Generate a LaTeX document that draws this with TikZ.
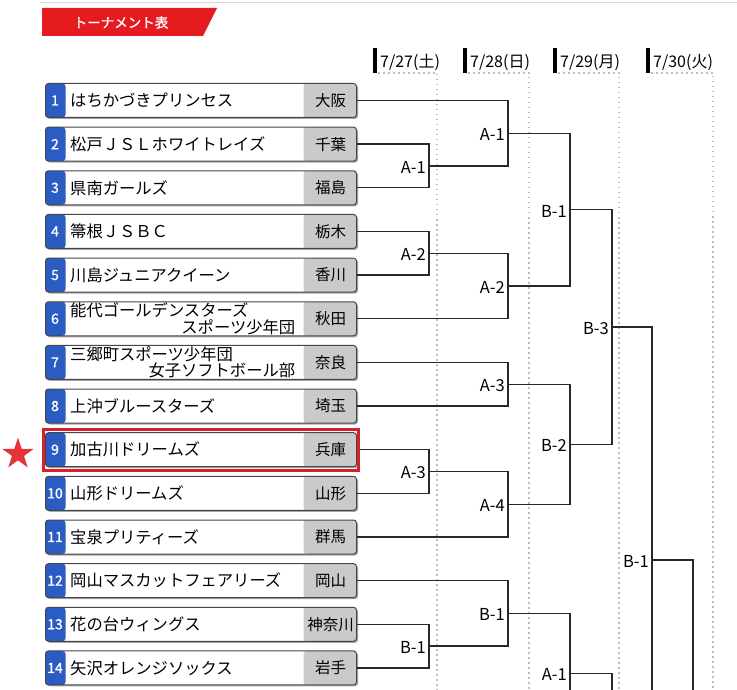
\documentclass[tikz,border=0pt]{standalone}
\usepackage{fontspec}
\setmainfont{Noto Sans CJK JP}
\newfontfamily\heavyfont[FakeBold=1.2]{Noto Sans CJK JP}
\usetikzlibrary{calc,shapes.geometric,shadows}
\definecolor{bannerred}{RGB}{228,28,32}
\definecolor{starred}{RGB}{228,52,58}
\definecolor{framered}{RGB}{214,32,42}
\definecolor{numblue}{RGB}{42,92,196}
\definecolor{prefgray}{RGB}{202,202,202}
\definecolor{boxline}{RGB}{70,70,70}
\definecolor{dotgray}{RGB}{190,190,190}
\definecolor{ruleline}{RGB}{40,40,40}

\tikzset{
  team/.style={draw=boxline, line width=1pt, rounded corners=3pt, fill=white,
    minimum width=311pt, minimum height=34pt, inner sep=0pt, anchor=west,
    drop shadow={shadow xshift=1.5pt, shadow yshift=-1.5pt, fill=black!50, opacity=0.7},
    path picture={
      \fill[numblue] (path picture bounding box.north west) rectangle ([xshift=20pt]path picture bounding box.south west);
      \fill[prefgray] ([xshift=-53pt]path picture bounding box.north east) rectangle (path picture bounding box.south east);
    }},
  numtxt/.style={text=white, inner sep=0pt, font=\heavyfont\fontsize{14}{14}\selectfont},
  nametxt/.style={anchor=west, inner sep=0pt, text width=225pt, align=left, font=\fontsize{16.3}{15}\selectfont},
  preftxt/.style={inner sep=0pt, font=\fontsize{15.5}{15.5}\selectfont},
  datetxt/.style={anchor=base west, inner sep=0pt, font=\fontsize{16}{16}\selectfont},
  gridline/.style={dotgray, line width=1.2pt, dash pattern=on 1.5pt off 3.5pt},
  bracket/.style={ruleline, line width=1.3pt},
  boutlabel/.style={anchor=east, inner sep=0pt, xshift=-3pt, yshift=-1.5pt, font=\fontsize{16.5}{16.5}\selectfont},
}

% one match: top entry, bottom entry, column, result name, label
\newcommand{\bout}[5]{%
  \draw[bracket] (#1) -- (#1 -| #3) -- (#2 -| #3) -- (#2);
  \coordinate (#4) at ($(#1 -| #3)!0.5!(#2 -| #3)$);
  \node[boutlabel] (#4l) at (#4) {#5};
}

\begin{document}
\begin{tikzpicture}[x=1pt,y=-1pt]
  \useasboundingbox (0,0) rectangle (737,690);
  \clip (0,0) rectangle (737,690);
  \draw[gray!30, line width=1.5pt] (40,2.5) -- (737,2.5);

  % title banner
  \fill[bannerred] (42,8) -- (217,8) -- (203,36) -- (42,36) -- cycle;
  \node[text=white, font=\heavyfont\fontsize{13.5}{13.5}\selectfont] (title) at (121,22.5) {トーナメント表};

  % day columns
  \foreach \bx/\dx/\dt [count=\k] in {375/437/{7/27(土)}, 465/529/{7/28(日)}, 555/619/{7/29(月)}, 648/713/{7/30(火)}}{
    \draw[line width=4pt] (\bx,48) -- (\bx,73);
    \node[datetxt] (d\k) at (\bx+5,68) {\dt};
    \draw[gridline] (\bx+3,73) -- (\dx,73) -- (\dx,690);
  }

  % teams
  \foreach \i/\nm/\pf in {
    1/はちかづきプリンセス/大阪,
    2/松戸ＪＳＬホワイトレイズ/千葉,
    3/県南ガールズ/福島,
    4/箒根ＪＳＢＣ/栃木,
    5/川島ジュニアクイーン/香川,
    6/{能代ゴールデンスターズ\\\hspace*{\fill}スポーツ少年団}/秋田,
    7/{三郷町スポーツ少年団\\\hspace*{\fill}女子ソフトボール部}/奈良,
    8/上沖ブルースターズ/埼玉,
    9/加古川ドリームズ/兵庫,
    10/山形ドリームズ/山形,
    11/宝泉プリティーズ/群馬,
    12/岡山マスカットフェアリーズ/岡山,
    13/花の台ウィングス/神奈川,
    14/矢沢オレンジソックス/岩手}{
    \pgfmathsetmacro\yy{100.5+(\i-1)*43.65}
    \node[team] (t\i) at (45,\yy) {};
    \node[numtxt] (n\i) at ([xshift=10pt]t\i.west) {\i};
    \node[nametxt] (nm\i) at ([xshift=25pt]t\i.west) {\nm};
    \node[preftxt] (pf\i) at ([xshift=-26.5pt]t\i.east) {\pf};
  }

  % bracket columns
  \coordinate (c1) at (429,0);
  \coordinate (c2) at (508,0);
  \coordinate (c3) at (570,0);
  \coordinate (c4) at (612,0);
  \coordinate (c5) at (652,0);
  \coordinate (c6) at (693,0);

  % 7/27
  \bout{t2.east}{t3.east}{c1}{a1}{A-1}
  \bout{t4.east}{t5.east}{c1}{a2}{A-2}
  \bout{t9.east}{t10.east}{c1}{a3}{A-3}
  \bout{t13.east}{t14.east}{c1}{b1}{B-1}
  % 7/28
  \bout{t1.east}{a1}{c2}{aa1}{A-1}
  \bout{a2}{t6.east}{c2}{aa2}{A-2}
  \bout{t7.east}{t8.east}{c2}{aa3}{A-3}
  \bout{a3}{t11.east}{c2}{aa4}{A-4}
  \bout{t12.east}{b1}{c2}{bb1}{B-1}
  % 7/29
  \bout{aa1}{aa2}{c3}{s1}{B-1}
  \bout{aa3}{aa4}{c3}{s2}{B-2}
  \coordinate (lowA) at (508,733);
  \bout{bb1}{lowA}{c3}{s3}{A-1}
  \bout{s1}{s2}{c4}{q1}{B-3}
  \draw[bracket] (s3) -- (s3 -| c4) -- ++(0,40);
  % 7/30
  \coordinate (lowB) at (612,793);
  \bout{q1}{lowB}{c5}{f1}{B-1}
  \draw[bracket] (f1) -- (f1 -| c6) -- ++(0,140);

  % highlighted team
  \draw[framered, line width=3.5pt] ([xshift=-1.5pt,yshift=2.5pt]t9.north west) rectangle ([xshift=1.5pt,yshift=-3.5pt]t9.south east);
  \node[star, star points=5, star point ratio=2.6, fill=starred, inner sep=0pt, minimum size=33pt] (mark) at (18,454) {};
\end{tikzpicture}
\end{document}
